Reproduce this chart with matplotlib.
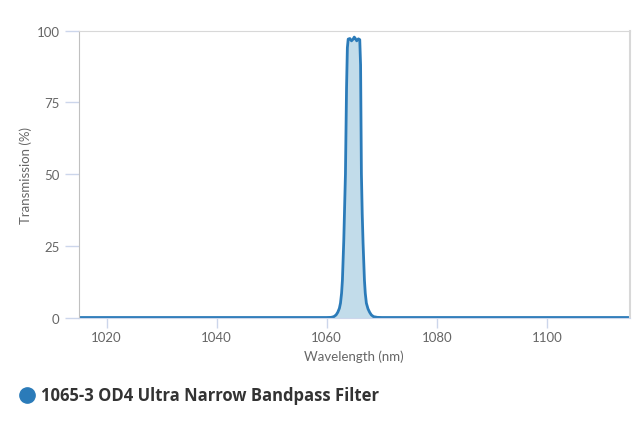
import numpy as np
import matplotlib
matplotlib.use("Agg")
import matplotlib.pyplot as plt
from matplotlib.lines import Line2D

# spectrum
wavelength = [1015, 1055, 1060, 1060.8, 1061.3, 1061.7, 1062.0, 1062.3, 1062.5, 1062.7,
              1062.85, 1063.1, 1063.4, 1063.6, 1063.75, 1063.9, 1064.2, 1064.5, 1064.8,
              1065.0, 1065.2, 1065.45, 1065.75, 1066.0, 1066.15, 1066.3, 1066.45,
              1066.6, 1066.85, 1067.0, 1067.2, 1067.5, 1067.8, 1068.1, 1068.5, 1069.2,
              1070, 1080, 1115]
transmission = [0, 0, 0, 0.05, 0.3, 0.9, 1.8, 3.2, 5.0, 8.5,
                13, 27, 50, 80, 94, 97.0, 97.2, 96.4, 97.0,
                97.7, 97.2, 96.4, 97.1, 96.8, 88, 50, 36,
                26, 13, 8.5, 5.0, 3.0, 1.8, 0.9, 0.3, 0.05,
                0, 0, 0]
series_name = "1065-3 OD4 Ultra Narrow Bandpass Filter"
x_ticks = [1020, 1040, 1060, 1080, 1100]
y_ticks = [0, 25, 50, 75, 100]

line_col = "#2b7bb9"
fill_col = "#c2dcea"

plt.rcParams['font.family'] = ['Lato', 'DejaVu Sans']

fig = plt.figure(figsize=(6.4, 4.27), dpi=100)
ax = fig.add_axes([79 / 640, 1 - 318.5 / 427, 550.5 / 640, 287 / 427])

ax.fill_between(wavelength, transmission, 0, color=fill_col, lw=0)
ax.plot(wavelength, transmission, color=line_col, lw=2, solid_joinstyle="round")

ax.set_xlim(1015, 1115)
ax.set_ylim(0, 100)
ax.set_xticks(x_ticks)
ax.set_yticks(y_ticks)

ax.tick_params(axis="both", colors="#ccd6eb", labelcolor="#666666", labelsize=9.5,
               width=1)
ax.tick_params(axis="x", length=7, pad=2.5)
ax.tick_params(axis="y", length=10, pad=4)

ax.spines["left"].set_color("#c0c0c0")
ax.spines["bottom"].set_color("#ccd6eb")
ax.spines["top"].set_color("#d8d8d8")
ax.spines["right"].set_color("#d8d8d8")
ax.spines["right"].set_linewidth(1.5)

ax.set_xlabel("Wavelength (nm)", color="#666666", fontsize=9.5, labelpad=5)
ax.set_ylabel("Transmission (%)", color="#666666", fontsize=9.5, labelpad=3)

# legend below the chart
fig.add_artist(Line2D([27 / 640], [1 - 396 / 427], transform=fig.transFigure,
                      marker="o", markersize=11, color=line_col, lw=0))
fig.text(41 / 640, 1 - 396.5 / 427, series_name, fontsize=12, fontweight="bold",
         color="#333333", va="center", ha="left", family=["Open Sans", "DejaVu Sans"])

fig.savefig("out.png", dpi=100)
